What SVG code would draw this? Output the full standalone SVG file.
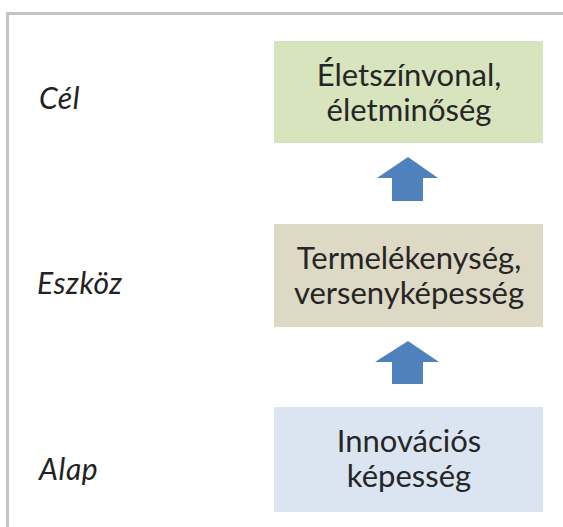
<svg xmlns="http://www.w3.org/2000/svg" width="563" height="527" viewBox="0 0 563 527">
<style>
.lbl{font-family:Lato,"Open Sans","DejaVu Sans",sans-serif;font-size:30px;font-style:italic;letter-spacing:0.6px;fill:#222}
.txt{font-family:Lato,"Open Sans","DejaVu Sans",sans-serif;font-size:31px;fill:#262626;text-anchor:middle}
.arrow{fill:#4f81bd}
</style>
<rect width="563" height="527" fill="#ffffff"/>
<path d="M7.5 527 V13.5 H563" fill="none" stroke="#c4c4c4" stroke-width="3"/>
<g id="label-cel"><text class="lbl" x="39" y="109">Cél</text></g>
<g id="label-eszkoz"><text class="lbl" x="37" y="294">Eszköz</text></g>
<g id="label-alap"><text class="lbl" x="39" y="480">Alap</text></g>
<g id="node-eletszinvonal">
<rect x="274" y="41" width="269" height="102" fill="#d7e4bd"/>
<text class="txt" x="409" y="86">Életszínvonal,</text>
<text class="txt" x="409" y="121">életminőség</text>
</g>
<g id="node-termelekenyseg">
<rect x="274" y="224" width="269" height="103" fill="#ddd9c4"/>
<text class="txt" x="409" y="269">Termelékenység,</text>
<text class="txt" x="409" y="304">versenyképesség</text>
</g>
<g id="node-innovacio">
<rect x="274" y="407" width="269" height="105" fill="#dbe5f1"/>
<text class="txt" x="409" y="452">Innovációs</text>
<text class="txt" x="409" y="487">képesség</text>
</g>
<g id="connectors">
<path class="arrow" d="M408 157 L438 178 L423 178 L423 201 L392 201 L392 178 L377 178 Z"/>
<path class="arrow" d="M408 341 L439 362 L423 362 L423 384 L392 384 L392 362 L375 362 Z"/>
</g>
</svg>
